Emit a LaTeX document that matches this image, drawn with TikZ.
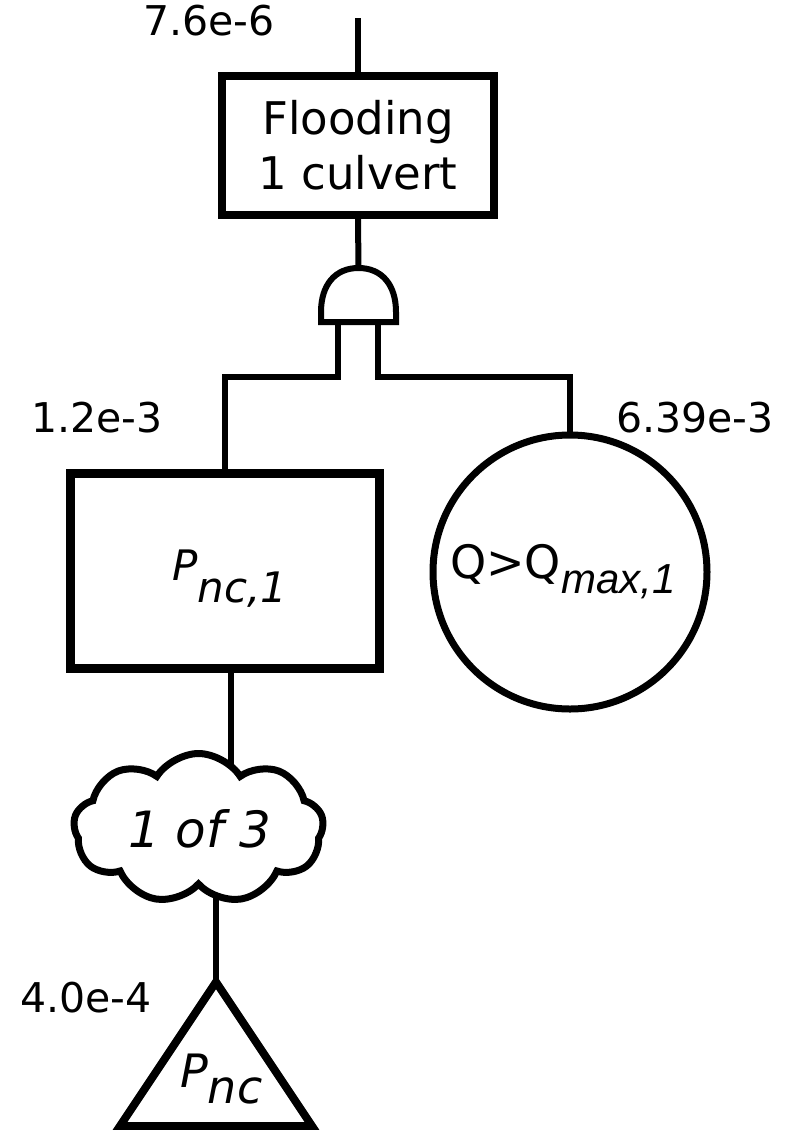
\documentclass[tikz,border=0pt]{standalone}
\usepackage{fontspec}
\setmainfont{DejaVu Sans}
\newfontfamily\arialf{Liberation Sans}
\usetikzlibrary{shapes.symbols}
\pgfdeclarelayer{bg}
\pgfsetlayers{bg,main}
\begin{document}
\begin{tikzpicture}[x=1pt,y=-1pt,
  conn/.style={line width=6pt},
  lbl/.style={font=\fontsize{41}{41}\selectfont, inner sep=0pt, anchor=base west},
  txt/.style={inner sep=0pt, anchor=base west},
  evbox/.style={draw, fill=white, line width=8pt, inner sep=0pt},
  basic/.style={draw, fill=white, circle, line width=7pt, inner sep=0pt},
  cloudy/.style={draw, fill=white, cloud, cloud puffs=9, cloud puff arc=115, aspect=1.65, line width=7pt, inner sep=0pt}
]
\useasboundingbox (0,0) rectangle (790,1130);

% top event
\coordinate (topend) at (358,18);
\node[evbox, minimum width=272pt, minimum height=139pt, align=center,
      font=\fontsize{45}{55}\selectfont] (box) at (358,145) {Flooding\\1 culvert};

% AND gate
\coordinate (gtop) at (358.5,268);
\coordinate (gl) at (338,322);
\coordinate (gr) at (378,322);
\draw[line width=6pt, fill=white] (321,322) -- (321,312)
  .. controls (321,285) and (335,268) .. (gtop)
  .. controls (382,268) and (396,285) .. (396,312) -- (396,322) -- cycle;

% intermediate event
\node[evbox, line width=9pt, minimum width=309pt, minimum height=195pt] (rect) at (224.5,570.5) {};
\node[txt, font=\fontsize{42}{42}\selectfont\itshape] (rtext) at (172,580) {P\raisebox{-22pt}{nc,1}};

% basic event
\node[basic, minimum size=274pt] (circ) at (570,572) {};
\node[txt, font=\fontsize{46}{46}\selectfont] (ctext) at (450,578) {Q>Q\raisebox{-15pt}{\arialf\itshape\fontsize{42}{42}\selectfont max,1}};

% cloud
\node[cloudy, minimum width=250pt, minimum height=150pt] (cl) at (198.5,828.5) {};
\node[txt, font=\fontsize{50}{50}\selectfont\itshape] (cltext) at (128,847) {1 of 3};

% transfer triangle
\coordinate (tri) at (216,982);
\draw[line width=8pt, fill=white] (tri) -- (312,1126) -- (120,1126) -- cycle;
\node[txt, font=\fontsize{46}{46}\selectfont\itshape] (ttext) at (180,1087) {P\raisebox{-16pt}{nc}};

% connectors
\begin{pgfonlayer}{bg}
\draw[conn] (topend) -- (box.north);
\draw[conn] (box.south) -- (gtop);
\draw[conn] (gl) -- (338,377) -| (rect.north);
\draw[conn] (gr) -- (378,377) -| (circ.north);
\draw[conn] ([xshift=6pt]rect.south) -- ([xshift=6pt]rect.south |- cl.center);
\draw[conn] (tri) -- (tri |- cl.center);
\end{pgfonlayer}

% probabilities
\node[lbl] (p0) at (143,35) {7.6e-6};
\node[lbl] (p1) at (31,432) {1.2e-3};
\node[lbl] (p2) at (616,432) {6.39e-3};
\node[lbl] (p3) at (20,1012) {4.0e-4};
\end{tikzpicture}
\end{document}
